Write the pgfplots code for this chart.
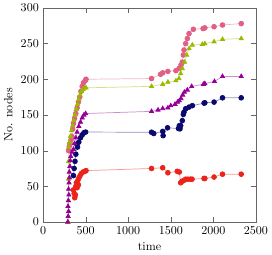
\documentclass[border=0pt]{standalone}
\usepackage{pgfplots}
\pgfplotsset{compat=1.18}
\definecolor{cred}{RGB}{235,35,25}
\definecolor{cnavy}{RGB}{10,10,110}
\definecolor{cpurple}{RGB}{150,0,150}
\definecolor{colive}{RGB}{155,185,0}
\definecolor{cpink}{RGB}{225,95,130}
\begin{document}
\begin{tikzpicture}
\begin{axis}[
  scale only axis, width=177pt, height=178pt,
  xmin=0, xmax=2500, ymin=0, ymax=300,
  xtick={0,500,1000,1500,2000,2500},
  ytick={0,50,100,150,200,250,300},
  /pgf/number format/1000 sep={},
  xlabel={time}, ylabel={No. nodes},
  axis line style={black!60}, tick style={black!60},
  every axis plot/.append style={line width=0.6pt, draw opacity=0.45, mark size=2pt, mark options={solid, draw opacity=1, fill opacity=1}},
]
\addplot[color=cpink, mark=*] coordinates {(299,100)(308,106)(318,110)(328,115)(338,120)(348,130)(358,138)(370,145)(385,152)(400,160)(415,168)(430,175)(445,183)(460,190)(475,195)(495,198)(505,200)(1274,201)(1380,207)(1405,209)(1466,211)(1560,212)(1596,215)(1620,220)(1635,224)(1647,234)(1655,241)(1675,250)(1694,257)(1714,264)(1765,270)(1879,271)(1900,272)(2008,273.6)(2107,276)(2327,278)};
\addplot[color=colive, mark=triangle*] coordinates {(295,0)(297,30)(299,60)(300,85)(302,105)(310,112)(322,120)(335,128)(348,135)(360,142)(375,150)(390,158)(405,165)(420,172)(435,178)(450,183)(470,186)(490,188)(505,188)(1274,190)(1405,193)(1466,196)(1560,198)(1596,201)(1616,208)(1635,215)(1663,224)(1686,234)(1714,243)(1753,248)(1871,249)(1900,250)(2008,252.6)(2107,256)(2327,257)};
\addplot[color=cred, mark=*] coordinates {(357,45)(365,40)(372,34)(380,38)(385,50)(392,55)(400,48)(408,58)(415,52)(422,62)(435,65)(450,68)(470,70)(490,71)(505,72)(1274,75)(1405,76)(1466,69)(1576,71)(1600,70)(1616,55)(1630,57)(1650,58)(1675,60)(1700,60)(1730,60)(1750,60)(1890,61)(1900,61)(2008,63)(2107,67)(2327,67)};
\addplot[color=cnavy, mark=*] coordinates {(357,65)(365,75)(375,85)(385,95)(397,109)(405,105)(420,112)(440,118)(460,122)(480,125)(500,126)(1274,125.8)(1300,124)(1405,127)(1410,121)(1462,132)(1590,131)(1600,135)(1608,130.5)(1616,135)(1635,142)(1647,150.7)(1655,154)(1675,158.7)(1714,161)(1753,163)(1891,166.6)(1900,167)(2008,168)(2107,174)(2327,174)};
\addplot[color=cpurple, mark=triangle*] coordinates {(290,0)(295,8)(300,15)(293,22)(298,30)(303,38)(300,46)(305,55)(310,62)(308,70)(315,78)(320,86)(325,92)(340,98)(357,102)(370,110)(385,118)(400,126)(420,134)(440,140)(460,146)(480,150)(500,152)(1274,155)(1350,157)(1405,159)(1466,160)(1500,163)(1550,165)(1580,168)(1600,170)(1620,173)(1640,178)(1660,182)(1694,185)(1745,190)(1883,193)(1900,194)(2013,197)(2107,204)(2327,204)};
\end{axis}
\end{tikzpicture}
\end{document}
